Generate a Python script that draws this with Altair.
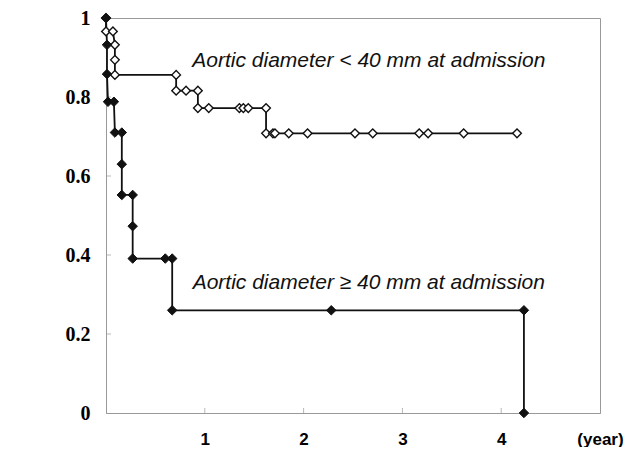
import altair as alt
import pandas as pd

# Aortic diameter < 40 mm (open diamonds)
open_t = [0, 0, 0.07, 0.09, 0.09, 0.09, 0.71, 0.71, 0.81, 0.93, 0.93, 1.04, 1.35, 1.39,
          1.44, 1.62, 1.62, 1.69, 1.71, 1.85, 2.04, 2.52, 2.70, 3.17, 3.26, 3.62, 4.16]
open_s = [1, 0.966, 0.966, 0.932, 0.894, 0.856, 0.856, 0.816, 0.816, 0.816, 0.772, 0.772,
          0.772, 0.772, 0.772, 0.772, 0.708, 0.708, 0.708, 0.708, 0.708, 0.708, 0.708,
          0.708, 0.708, 0.708, 0.708]

# Aortic diameter >= 40 mm (filled diamonds)
fill_t = [0, 0.01, 0.01, 0.02, 0.08, 0.09, 0.16, 0.16, 0.16, 0.27, 0.27, 0.27, 0.60,
          0.67, 0.67, 2.28, 4.23, 4.23]
fill_s = [1, 0.932, 0.858, 0.788, 0.788, 0.71, 0.71, 0.63, 0.552, 0.552, 0.473, 0.391,
          0.391, 0.391, 0.26, 0.26, 0.26, 0]

label_text = ["Aortic diameter < 40 mm at admission", "Aortic diameter \u2265 40 mm at admission"]
label_x = [2.66, 2.66]
label_y = [0.89, 0.33]

x_ticks = [1, 2, 3, 4]
y_ticks = [0.2, 0.4, 0.6, 0.8]

rows = []
for i, (t, s) in enumerate(zip(open_t, open_s)):
    rows.append({"series": "lt40", "t": t, "s": s, "idx": i})
for i, (t, s) in enumerate(zip(fill_t, fill_s)):
    rows.append({"series": "ge40", "t": t, "s": s, "idx": i})
df = pd.DataFrame(rows)

xscale = alt.Scale(domain=[0, 5], nice=False)
yscale = alt.Scale(domain=[0, 1], nice=False)

xaxis = alt.Axis(values=[1, 2, 3, 4, 5], format="d",
                 labelExpr="datum.value == 5 ? '(year)' : datum.label",
                 labelFlush=False, labelOverlap=False,
                 grid=False, ticks=False, domainColor="#999999", labelPadding=18,
                 labelFont="Liberation Sans", labelFontWeight="bold", labelFontSize=17,
                 labelColor="#000000", title=None)
yaxis = alt.Axis(values=[0, 0.2, 0.4, 0.6, 0.8, 1.0], format="~g",
                 labelFlush=False, labelOverlap=False,
                 grid=False, ticks=False, domainColor="#999999", labelPadding=16,
                 labelFont="Liberation Serif", labelFontWeight="bold", labelFontSize=20,
                 labelColor="#000000", title=None)

base = alt.Chart(df)

lines = base.mark_line(color="#111111", strokeWidth=1.8).encode(
    x=alt.X("t:Q", scale=xscale, axis=xaxis),
    y=alt.Y("s:Q", scale=yscale, axis=yaxis),
    detail="series:N",
    order="idx:Q",
)

open_pts = base.transform_filter(alt.datum.series == "lt40").mark_point(
    shape="diamond", filled=True, fill="white", stroke="#111111", strokeWidth=1.4,
    size=75, opacity=1
).encode(x="t:Q", y="s:Q")

fill_pts = base.transform_filter(alt.datum.series == "ge40").mark_point(
    shape="diamond", filled=True, fill="#111111", stroke="#111111", strokeWidth=1,
    size=90, opacity=1
).encode(x="t:Q", y="s:Q")

labels = alt.Chart(pd.DataFrame({"text": label_text, "x": label_x, "y": label_y})).mark_text(
    font="Liberation Sans", fontStyle="italic", fontSize=21, color="#111111",
    align="center", baseline="middle"
).encode(x="x:Q", y="y:Q", text="text:N")

xt = alt.Chart(pd.DataFrame({"x": x_ticks, "y": [0] * len(x_ticks)})).mark_tick(
    orient="vertical", color="#999999", size=5, thickness=1, yOffset=-2.5
).encode(x="x:Q", y="y:Q")

yt = alt.Chart(pd.DataFrame({"x": [0] * len(y_ticks), "y": y_ticks})).mark_tick(
    orient="horizontal", color="#999999", size=5, thickness=1, xOffset=2.5
).encode(x="x:Q", y="y:Q")

chart = alt.layer(xt, yt, lines, open_pts, fill_pts, labels).properties(
    width=494, height=395,
    autosize=alt.AutoSizeParams(type="none"),
    padding={"left": 98, "top": 10, "right": 25, "bottom": 34},
    background="white",
).configure_view(stroke="#999999", strokeWidth=1)

chart.save("out.html", embed_options={"renderer": "svg", "actions": False})
